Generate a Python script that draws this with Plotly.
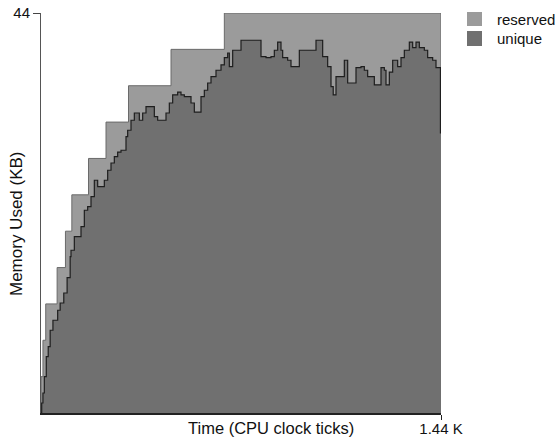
import plotly.graph_objects as go

# Reserved memory (step function), time in CPU clock ticks, memory in KB
res_t = [0, 0, 7, 17, 58, 88, 111, 171, 234, 315, 468, 660, 1440, 1440]
res_v = [0, 4, 8, 12, 16, 20, 24, 28, 32, 36, 40, 44, 44, 0]

# Unique memory (noisy staircase)
uniq_t = [0, 2.5, 7, 12, 19, 26, 33, 43, 60, 69, 82, 94, 105, 108, 120, 144, 156, 168,
          180, 192, 204, 216, 228, 240, 252, 264, 276, 288, 300, 306, 312, 324, 336,
          354, 366, 378, 396, 408, 420, 438, 450, 462, 474, 492, 504, 516, 528, 540,
          552, 564, 576, 588, 600, 612, 630, 648, 660, 672, 678, 690, 702, 720, 786,
          792, 810, 828, 840, 852, 864, 870, 888, 900, 918, 930, 972, 990, 1008, 1014,
          1032, 1044, 1052, 1062, 1080, 1092, 1104, 1122, 1134, 1152, 1164, 1176, 1188,
          1200, 1212, 1224, 1236, 1242, 1254, 1266, 1284, 1296, 1308, 1326, 1338, 1350,
          1362, 1380, 1392, 1410, 1422, 1434, 1438, 1440]
uniq_v = [0, 1.1, 2.2, 4.0, 6.2, 7.3, 9.1, 10.2, 11.3, 12.1, 13.2, 14.9, 17.2, 17.9, 19.4,
          20.5, 22.3, 22.7, 23.8, 25.6, 24.9, 24.9, 25.6, 26.7, 27.5, 28.2, 28.7, 28.9,
          28.9, 30.4, 31.1, 32.2, 33.0, 32.2, 33.0, 33.7, 33.7, 32.6, 32.2, 32.2, 33.0,
          34.1, 35.0, 35.3, 35.0, 34.8, 34.8, 34.1, 33.1, 33.1, 34.8, 35.5, 36.3, 37.0,
          37.7, 38.3, 39.1, 39.6, 38.1, 39.9, 39.9, 41.0, 41.0, 39.2, 39.1, 39.2, 39.9,
          40.8, 39.9, 39.1, 38.8, 38.1, 38.1, 39.9, 39.9, 41.0, 41.0, 39.2, 38.1, 35.9,
          35.0, 37.0, 37.0, 38.8, 36.3, 36.3, 38.0, 38.1, 37.7, 37.0, 37.0, 36.1, 36.1,
          38.0, 37.7, 36.1, 37.5, 38.8, 38.1, 39.1, 39.9, 40.8, 40.2, 40.8, 40.2, 39.9,
          39.1, 38.8, 38.0, 38.0, 30.8, 30.8]

x_ticks = [1440]
x_ticktext = ["1.44 K"]
y_ticks = [44]
y_ticktext = ["44"]

FONT = "Liberation Sans, Arial, sans-serif"
RES_FILL = "#9b9b9b"
UNQ_FILL = "#707070"

fig = go.Figure()
fig.add_trace(go.Scatter(x=res_t, y=res_v, mode="lines", line_shape="hv",
                         fill="tozeroy", fillcolor=RES_FILL,
                         line=dict(color="#6a6a6a", width=1), name="reserved",
                         showlegend=False, hoverinfo="skip"))
fig.add_trace(go.Scatter(x=uniq_t, y=uniq_v, mode="lines", line_shape="hv",
                         fill="tozeroy", fillcolor=UNQ_FILL,
                         line=dict(color="#1e1e1e", width=1.2), name="unique",
                         showlegend=False, hoverinfo="skip"))

fig.update_layout(
    width=555, height=439,
    margin=dict(l=41, r=114, t=13, b=26),
    paper_bgcolor="white", plot_bgcolor="white",
    font=dict(family=FONT, size=15, color="#111111"),
    xaxis=dict(range=[0, 1440], tickvals=x_ticks, ticktext=x_ticktext,
               ticks="outside", ticklen=5, tickcolor="#222", showgrid=False,
               zeroline=False, showline=True, linecolor="#222", linewidth=2,
               tickfont=dict(size=15), automargin=False, ticklabelstandoff=-4),
    yaxis=dict(range=[0, 44], tickvals=y_ticks, ticktext=y_ticktext,
               ticks="outside", ticklen=7, tickcolor="#444", showgrid=False,
               zeroline=False, showline=True, linecolor="#555", linewidth=1,
               tickfont=dict(size=15), automargin=False),
    annotations=[
        dict(text="Time (CPU clock ticks)", xref="paper", yref="paper",
             x=0.575, y=0, yshift=-15, xanchor="center", yanchor="middle",
             showarrow=False, font=dict(size=16.5)),
        dict(text="Memory Used (KB)", xref="paper", yref="paper",
             x=-0.0625, y=0.4725, xanchor="center", yanchor="middle",
             textangle=-90, showarrow=False, font=dict(size=17)),
        dict(text="reserved", xref="paper", yref="paper", x=1.135, y=0.985,
             xanchor="left", yanchor="middle", showarrow=False, font=dict(size=15)),
        dict(text="unique", xref="paper", yref="paper", x=1.135, y=0.936,
             xanchor="left", yanchor="middle", showarrow=False, font=dict(size=15)),
    ],
    shapes=[
        dict(type="rect", xref="paper", yref="paper", x0=1.065, x1=1.1025,
             y0=0.9675, y1=1.0025, fillcolor=RES_FILL, line=dict(width=0)),
        dict(type="rect", xref="paper", yref="paper", x0=1.065, x1=1.1025,
             y0=0.9175, y1=0.955, fillcolor=UNQ_FILL, line=dict(width=0)),
    ],
)

fig.write_html("out.html")
